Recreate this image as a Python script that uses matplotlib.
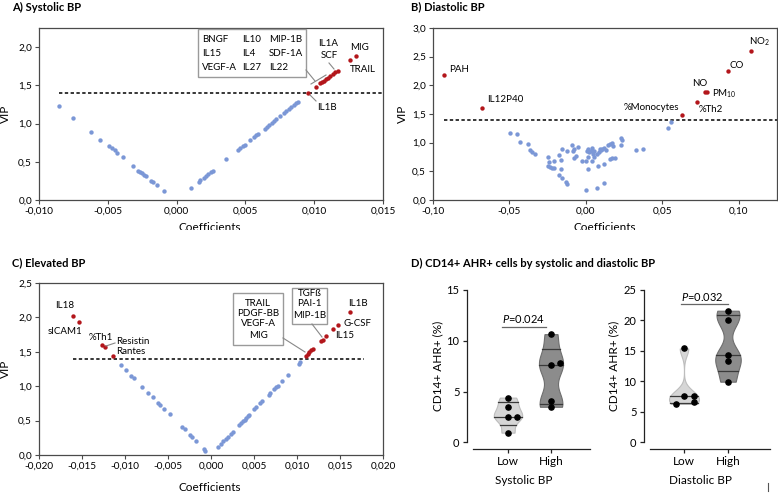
import numpy as np
import matplotlib
matplotlib.use("Agg")
import matplotlib.pyplot as plt
from matplotlib.ticker import FuncFormatter, MultipleLocator
from matplotlib.patches import Rectangle
from matplotlib.lines import Line2D

plt.rcParams['font.family'] = ['Lato', 'DejaVu Sans']
plt.rcParams['mathtext.fontset'] = 'custom'
plt.rcParams['mathtext.rm'] = 'Lato'
plt.rcParams['mathtext.it'] = 'Lato:italic'

# ---------------- data ----------------
VIP_CUT = 1.4

# A) systolic BP
sys_blue_coef = [-0.00857, -0.0075, -0.00622, -0.00554, -0.00493, -0.00469, -0.0045, -0.0043,
                 -0.0039, -0.00316, -0.0028, -0.00265, -0.00253, -0.0024, -0.00226, -0.00185,
                 -0.0017, -0.00144, -0.00091, 0.00103, 0.00161, 0.00173, 0.002, 0.00214, 0.0023,
                 0.00248, 0.00262, 0.00358, 0.00445, 0.00462, 0.00481, 0.00496, 0.00532, 0.00561,
                 0.00576, 0.0059, 0.00639, 0.00656, 0.00675, 0.00692, 0.00709, 0.00726, 0.00753,
                 0.00782, 0.00796, 0.00816, 0.00833, 0.00852, 0.00869, 0.00881]
sys_blue_vip = [1.225, 1.072, 0.884, 0.788, 0.705, 0.678, 0.648, 0.613, 0.556, 0.442, 0.385,
                0.368, 0.35, 0.333, 0.31, 0.254, 0.232, 0.197, 0.114, 0.158, 0.241, 0.258, 0.293,
                0.319, 0.341, 0.363, 0.385, 0.53, 0.656, 0.683, 0.709, 0.726, 0.779, 0.823, 0.849,
                0.866, 0.932, 0.958, 0.985, 1.007, 1.033, 1.059, 1.098, 1.142, 1.16, 1.19, 1.217,
                1.247, 1.269, 1.282]
sys_red_coef = [0.00957, 0.01015, 0.01044, 0.01056, 0.01068, 0.01083, 0.01097, 0.01112,
                0.01136, 0.01153, 0.0117, 0.01257, 0.01304]
sys_red_vip = [1.396, 1.475, 1.527, 1.545, 1.562, 1.584, 1.602, 1.619, 1.654, 1.676, 1.694,
               1.829, 1.89]
sys_box_cols = [["BNGF", "IL15", "VEGF-A"], ["IL10", "IL4", "IL27"], ["MIP-1B", "SDF-1A", "IL22"]]

# B) diastolic BP
dia_blue_coef = [-0.0498, -0.045, -0.0431, -0.0376, -0.0363, -0.035, -0.0334, -0.0245, -0.0242,
                 -0.0245, -0.0236, -0.0223, -0.021, -0.0208, -0.0177, -0.0164, -0.0155, -0.0164,
                 -0.0177, -0.0153, -0.0127, -0.0125, -0.0122, -0.0094, -0.0079, -0.0083, -0.0079,
                 -0.0066, -0.005, -0.0028, 0.0, 0.0011, 0.0037, 0.0, 0.0007, 0.002, 0.0031, 0.0042,
                 0.0048, 0.0055, 0.0074, 0.0085, 0.0098, 0.0107, 0.012, 0.0129, 0.0142, 0.0157,
                 0.0173, 0.0077, 0.012, 0.0157, 0.0173, 0.019, 0.023, 0.0234, 0.0227, 0.0328,
                 0.0372, 0.0072, 0.0118, 0.054, 0.0555, 0.0017, 0.0092, 0.0175, 0.0013, 0.0052]
dia_blue_vip = [1.17, 1.152, 1.018, 0.977, 0.865, 0.836, 0.801, 0.754, 0.661, 0.596, 0.573,
                0.556, 0.55, 0.673, 0.778, 0.696, 0.895, 0.544, 0.439, 0.392, 0.322, 0.287, 0.86,
                0.965, 0.895, 0.848, 0.731, 0.766, 0.918, 0.678, 0.684, 0.532, 0.678, 0.175, 0.86,
                0.842, 0.854, 0.912, 0.807, 0.854, 0.807, 0.83, 0.865, 0.889, 0.901, 0.865, 0.959,
                0.977, 0.994, 0.596, 0.632, 0.719, 0.731, 0.737, 1.088, 1.041, 0.959, 0.871, 0.889,
                0.211, 0.292, 1.263, 1.363, 0.883, 0.883, 0.942, 0.75, 0.75]
dia_red_coef = [-0.0929, -0.0682, 0.0627, 0.0726, 0.078, 0.0791, 0.0929, 0.1082]
dia_red_vip = [2.18, 1.608, 1.485, 1.708, 1.883, 1.883, 2.246, 2.596]

# C) elevated BP
ele_blue_coef = [-0.01045, -0.00987, -0.00925, -0.00898, -0.00797, -0.00727, -0.00677, -0.00611,
                 -0.00592, -0.00541, -0.00479, -0.00332, -0.00308, -0.00246, -0.00223, -0.00176,
                 -0.00087, -0.00064, 0.00087, 0.00114, 0.00145, 0.00169, 0.00196, 0.00231,
                 0.00254, 0.00328, 0.00347, 0.0037, 0.0039, 0.00409, 0.00428, 0.00444, 0.00502,
                 0.00526, 0.00572, 0.00595, 0.00669, 0.00688, 0.00727, 0.00751, 0.00774, 0.00824,
                 0.00898, 0.01022, 0.01038]
ele_blue_vip = [1.311, 1.238, 1.155, 1.126, 0.995, 0.908, 0.845, 0.752, 0.728, 0.665, 0.592,
                0.403, 0.374, 0.291, 0.262, 0.209, 0.083, 0.063, 0.121, 0.16, 0.204, 0.233, 0.267,
                0.306, 0.34, 0.432, 0.461, 0.49, 0.515, 0.539, 0.563, 0.583, 0.665, 0.694, 0.752,
                0.782, 0.874, 0.898, 0.956, 0.985, 1.01, 1.073, 1.165, 1.325, 1.345]
ele_red_coef = [-0.016, -0.0153, -0.01267, -0.01232, -0.01142, 0.01104, 0.01123, 0.01142,
                0.01162, 0.01185, 0.01282, 0.01297, 0.0134, 0.01418, 0.01472, 0.01612]
ele_red_vip = [2.024, 1.932, 1.597, 1.563, 1.437, 1.442, 1.466, 1.495, 1.519, 1.544, 1.66,
               1.675, 1.733, 1.825, 1.893, 2.073]
ele_box1 = ["TRAIL", "PDGF-BB", "VEGF-A", "MIG"]
ele_box2 = ["TGFß", "PAI-1", "MIP-1B"]

# D) CD14+ AHR+ cells
groups = ["Low", "High"]
sys_low = [4.4, 3.5, 2.5, 2.5, 0.95]
sys_high = [10.65, 7.6, 7.8, 4.1, 3.5]
dia_low = [15.4, 7.65, 7.65, 6.3, 6.6]
dia_high = [21.6, 20.1, 14.3, 13.3, 9.95]
p_sys = "0.024"
p_dia = "0.032"

# ---------------- layout ----------------
W, H = 778, 493
fig = plt.figure(figsize=(W / 100, H / 100), dpi=100)

BLUE = '#7b97d6'
RED = '#b3161b'
SPINE = '#4a4a4a'


def px_axes(left, top, right, bottom):
    return fig.add_axes([left / W, 1 - bottom / H, (right - left) / W, (bottom - top) / H])


def ftext(px, py, s, **kw):
    kw.setdefault('va', 'center')
    kw.setdefault('fontsize', 7)
    return fig.text(px / W, 1 - py / H, s, **kw)


def fline(p0, p1, color='#888888', lw=0.8):
    fig.add_artist(Line2D([p0[0] / W, p1[0] / W], [1 - p0[1] / H, 1 - p1[1] / H],
                          transform=fig.transFigure, color=color, lw=lw))


def fbox(left, top, right, bottom):
    fig.add_artist(Rectangle((left / W, 1 - bottom / H), (right - left) / W, (bottom - top) / H,
                             transform=fig.transFigure, facecolor='white', edgecolor='#9a9a9a', lw=1.0))


def comma_fmt(nd):
    return FuncFormatter(lambda v, _: f"{v:.{nd}f}".replace('.', ','))


def vip_axes(ax, xlim, ylim, xstep, ystep, xnd):
    ax.set_xlim(*xlim)
    ax.set_ylim(*ylim)
    ax.xaxis.set_major_locator(MultipleLocator(xstep))
    ax.yaxis.set_major_locator(MultipleLocator(ystep))
    ax.xaxis.set_major_formatter(comma_fmt(xnd))
    ax.yaxis.set_major_formatter(comma_fmt(1))
    for sp in ax.spines.values():
        sp.set_color(SPINE)
        sp.set_linewidth(0.9)
    ax.tick_params(direction='out', length=3, width=0.8, color=SPINE, labelsize=7.2, pad=2)


def scatter_vip(ax, bc, bv, rc, rv, x0, x1):
    ax.scatter(bc, bv, s=10, color=BLUE, linewidths=0, zorder=3)
    ax.scatter(rc, rv, s=10, color=RED, linewidths=0, zorder=3)
    ax.hlines(VIP_CUT, x0, x1, colors='black', linestyles=(0, (2.2, 1.6)), lw=1.1, zorder=2)


# A
axA = px_axes(39, 28, 383, 200)
scatter_vip(axA, sys_blue_coef, sys_blue_vip, sys_red_coef, sys_red_vip, min(sys_blue_coef), 0.015)
vip_axes(axA, (-0.010, 0.015), (0, 2.25), 0.005, 0.5, 3)
ftext(12, 7, "A) Systolic BP", fontsize=8, fontweight='bold')
ftext(5, 114, "VIP", rotation=90, ha='center', fontsize=8.5)
ftext(210, 222, "Coefficients", ha='center', va='top', fontsize=8.5)
fbox(198, 29, 306, 77)
for cx, col in zip([202, 242, 269], sys_box_cols):
    for ry, name in zip([40, 54, 68], col):
        ftext(cx, ry, name)
ftext(318, 43, "IL1A")
ftext(321, 55, "SCF")
ftext(350, 48, "MIG")
ftext(350, 69, "TRAIL")
ftext(317, 108, "IL1B")
fline((306, 70), (315, 81))
fline((311, 84), (326, 75))
fline((329, 63), (334, 69))
fline((310, 95), (316, 101))

# B
axB = px_axes(433, 28, 777, 200)
scatter_vip(axB, dia_blue_coef, dia_blue_vip, dia_red_coef, dia_red_vip, min(dia_red_coef), 0.125)
vip_axes(axB, (-0.10, 0.125), (0, 3.0), 0.05, 0.5, 2)
ftext(411, 7, "B) Diastolic BP", fontsize=8, fontweight='bold')
ftext(402, 114, "VIP", rotation=90, ha='center', fontsize=8.5)
ftext(605, 222, "Coefficients", ha='center', va='top', fontsize=8.5)
ftext(449, 69, "PAH")
ftext(487, 100, "IL12P40")
ftext(679, 107, "%Monocytes", ha='right')
ftext(699, 109, "%Th2")
ftext(692, 84, "NO")
ftext(712, 94, "PM$_{10}$")
ftext(730, 66, "CO")
ftext(749, 42, "NO$_2$")

# C
axC = px_axes(39, 283, 383, 455)
scatter_vip(axC, ele_blue_coef, ele_blue_vip, ele_red_coef, ele_red_vip, min(ele_red_coef), 0.01775)
vip_axes(axC, (-0.020, 0.020), (0, 2.5), 0.005, 0.5, 3)
ftext(12, 263, "C) Elevated BP", fontsize=8, fontweight='bold')
ftext(5, 369, "VIP", rotation=90, ha='center', fontsize=8.5)
ftext(210, 482, "Coefficients", ha='center', va='top', fontsize=8.5)
fbox(233, 293, 283, 345)
for ry, name in zip([303, 313.5, 324, 335], ele_box1):
    ftext(258, ry, name, ha='center')
fbox(292, 288, 327, 324)
for ry, name in zip([293.5, 304, 315], ele_box2):
    ftext(309.5, ry, name, ha='center')
fline((283, 338), (305, 352))
fline((312, 324), (322, 337))
fline((106, 346), (115, 343))
ftext(65, 306, "IL18", ha='center')
ftext(65, 331, "sICAM1", ha='center')
ftext(101, 337, "%Th1", ha='center')
ftext(116, 342, "Resistin")
ftext(116, 352, "Rantes")
ftext(348, 303, "IL1B")
ftext(343, 324, "G-CSF")
ftext(335, 335, "IL15")

# white band that crops the top-row x labels
fig.add_artist(Rectangle((0, 1 - 249 / H), 1, 19 / H, transform=fig.transFigure,
                         facecolor='white', edgecolor='none', zorder=10))


# D
def violin(ax, pos, vals, h, half_w, face, edge):
    vals = np.asarray(vals, dtype=float)
    ys = np.linspace(vals.min(), vals.max(), 300)
    dens = np.exp(-0.5 * ((ys[:, None] - vals[None, :]) / h) ** 2).sum(axis=1)
    w = dens / dens.max() * half_w
    ax.fill_betweenx(ys, pos - w, pos + w, facecolor=face, edgecolor=edge, lw=0.8, zorder=2)
    for q in np.percentile(vals, [25, 50, 75], method='weibull'):
        wq = np.interp(q, ys, w)
        ax.plot([pos - wq, pos + wq], [q, q], color='#3a3a3a', lw=0.9, zorder=3)


def d_axes(ax, ymax, ystep, xlim, label, lab_x, ylab_x):
    ax.set_xlim(*xlim)
    ax.set_ylim(0, ymax)
    ax.set_yticks(np.arange(0, ymax + 0.1, ystep))
    ax.set_xticks([0, 1])
    ax.set_xticklabels(groups)
    for s in ('top', 'right'):
        ax.spines[s].set_visible(False)
    # offsets are in points (6 px / 7 px)
    ax.spines['left'].set_position(('outward', 4.3))
    ax.spines['bottom'].set_position(('outward', 5))
    ax.spines['left'].set_bounds(0, ymax)
    for s in ('left', 'bottom'):
        ax.spines[s].set_color('#222222')
        ax.spines[s].set_linewidth(0.9)
    ax.tick_params(direction='out', length=3, width=0.9, labelsize=8, pad=2.5, color='#222222')
    ax.tick_params(axis='x', labelsize=8.5, pad=2)
    ax.set_xlabel(label, fontsize=8.5, va='center')
    ax.xaxis.set_label_coords(lab_x, -0.248)
    ax.set_ylabel("CD14+ AHR+ (%)", fontsize=8.5, va='center')
    ax.yaxis.set_label_coords(ylab_x, 0.5)
    ax.patch.set_alpha(0)


ftext(411, 263, "D) CD14+ AHR+ cells by systolic and diastolic BP", fontsize=8, fontweight='bold')

axD1 = px_axes(473, 290, 590, 442.3)
violin(axD1, 0, sys_low, 0.6, 0.33, '#d6d6d6', '#bdbdbd')
violin(axD1, 1, sys_high, 1.25, 0.28, '#8c8c8c', '#6e6e6e')
axD1.scatter(np.zeros(len(sys_low)) + [0, 0, 0, 0.21, 0], sys_low, s=14, color='black', zorder=4)
axD1.scatter(np.ones(len(sys_high)) + [0, 0, 0.21, 0, 0], sys_high, s=14, color='black', zorder=4)
axD1.plot([-0.14, 0.88], [11.36, 11.36], color='#666666', lw=0.9, clip_on=False)
axD1.text(0.37, 12.1, "$P$=" + p_sys, ha='center', va='center', fontsize=8)
d_axes(axD1, 15, 5, (-0.814, 1.907), "Systolic BP", 0.436, -0.30)

axD2 = px_axes(650, 290, 770, 442.3)
violin(axD2, 0, dia_low, 1.2, 0.34, '#d6d6d6', '#bdbdbd')
violin(axD2, 1, dia_high, 1.8, 0.29, '#8c8c8c', '#6e6e6e')
axD2.scatter(np.zeros(len(dia_low)) + [0, 0, 0.23, -0.18, 0.23], dia_low, s=14, color='black', zorder=4)
axD2.scatter(np.ones(len(dia_high)), dia_high, s=14, color='black', zorder=4)
axD2.plot([-0.075, 1.0], [22.7, 22.7], color='#666666', lw=0.9, clip_on=False)
axD2.text(0.41, 23.9, "$P$=" + p_dia, ha='center', va='center', fontsize=8)
d_axes(axD2, 25, 5, (-0.773, 1.955), "Diastolic BP", 0.417, -0.30)

fline((767.7, 483), (767.7, 491), color='#555555', lw=0.8)

fig.savefig("out.png", dpi=100)
